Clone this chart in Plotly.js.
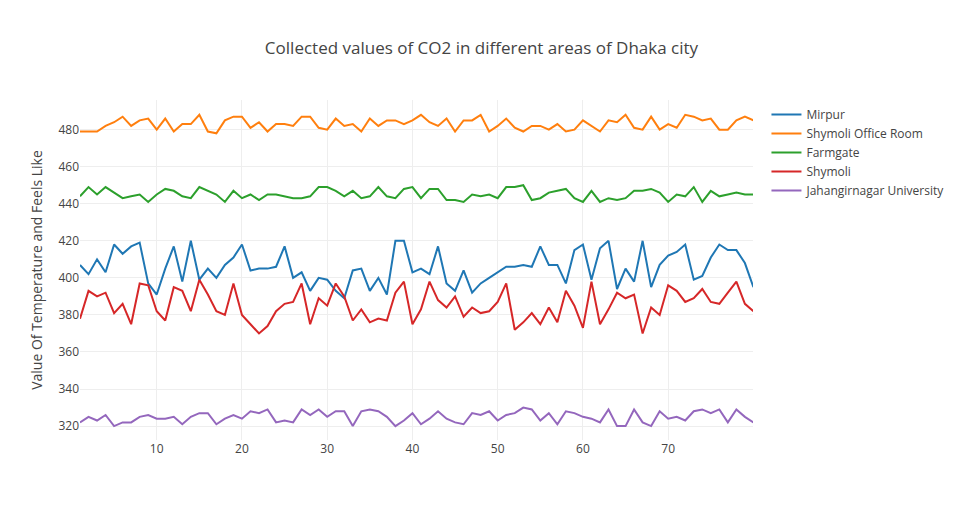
<!DOCTYPE html>
<html><head><script src="https://cdn.plot.ly/plotly-3.0.1.min.js"></script></head>
<body style="margin:0"><div id="c" style="width:963px;height:525px"></div>
<script>
const mirpur=[407,402,410,403,418,413,417,419,397,391,405,417,398,420,399,405,400,407,411,418,404,405,405,406,417,400,403,393,400,399,393,389,404,405,393,400,391,420,420,403,405,402,417,397,393,404,392,397,400,403,406,406,407,406,417,407,407,397,415,418,399,416,420,394,405,398,420,395,407,412,414,418,399,401,411,418,415,415,408,395];
const office=[479,479,479,482,484,487,482,485,486,480,486,479,483,483,488,479,478,485,487,487,481,484,479,483,483,482,487,487,481,480,486,482,483,479,486,482,485,485,483,485,488,484,482,486,479,485,485,488,479,482,486,481,479,482,482,480,483,479,480,485,482,479,485,484,488,481,480,487,480,483,481,488,487,485,486,480,480,485,487,485];
const farmgate=[444,449,445,449,446,443,444,445,441,445,448,447,444,443,449,447,445,441,447,443,445,442,445,445,444,443,443,444,449,449,447,444,447,443,444,449,444,443,448,449,443,448,448,442,442,441,445,444,445,443,449,449,450,442,443,446,447,448,443,441,447,441,443,442,443,447,447,448,446,441,445,444,449,441,447,444,445,446,445,445];
const shymoli=[378,393,390,392,381,386,375,397,396,382,377,395,393,382,399,391,382,380,397,380,375,370,374,382,386,387,397,375,389,385,397,390,377,383,376,378,377,392,398,375,383,398,388,384,390,379,384,381,382,387,397,372,376,381,375,384,376,393,385,373,398,375,383,392,389,391,370,384,380,396,393,387,389,394,387,386,392,398,386,382];
const ju=[322,325,323,326,320,322,322,325,326,324,324,325,321,325,327,327,321,324,326,324,328,327,329,322,323,322,329,326,329,325,328,328,320,328,329,328,325,320,323,327,321,324,328,324,322,321,327,326,328,323,326,327,330,329,323,327,321,328,327,325,324,322,329,320,320,329,322,320,328,324,325,323,328,329,327,329,322,329,325,322];
const names=["Mirpur","Shymoli Office Room","Farmgate","Shymoli","Jahangirnagar University"];
const series=[mirpur,office,farmgate,shymoli,ju];
const colors=["#1f77b4","#ff7f0e","#2ca02c","#d62728","#9467bd"];
const traces=series.map((s,i)=>({x:s.map((_,j)=>j+1),y:s,name:names[i],type:"scatter",mode:"lines",line:{color:colors[i],width:2}}));
Plotly.newPlot("c",traces,{
 width:963,height:525,
 title:{text:"Collected values of CO2 in different areas of Dhaka city",font:{size:17,color:"#444"},x:0.5,y:0.92},
 margin:{l:80,r:210,t:100,b:85},
 xaxis:{range:[1,79.95],showgrid:true,gridcolor:"#eee",zeroline:false,dtick:10},
 yaxis:{title:{text:"Value Of Temperature and Feels Like"},range:[312.5,496],showgrid:true,gridcolor:"#eee",zeroline:false,dtick:20},
 legend:{x:1.02,y:1},
 font:{family:"Open Sans, sans-serif",color:"#444"},
 plot_bgcolor:"#fff",paper_bgcolor:"#fff"
},{displayModeBar:false});
</script></body></html>
